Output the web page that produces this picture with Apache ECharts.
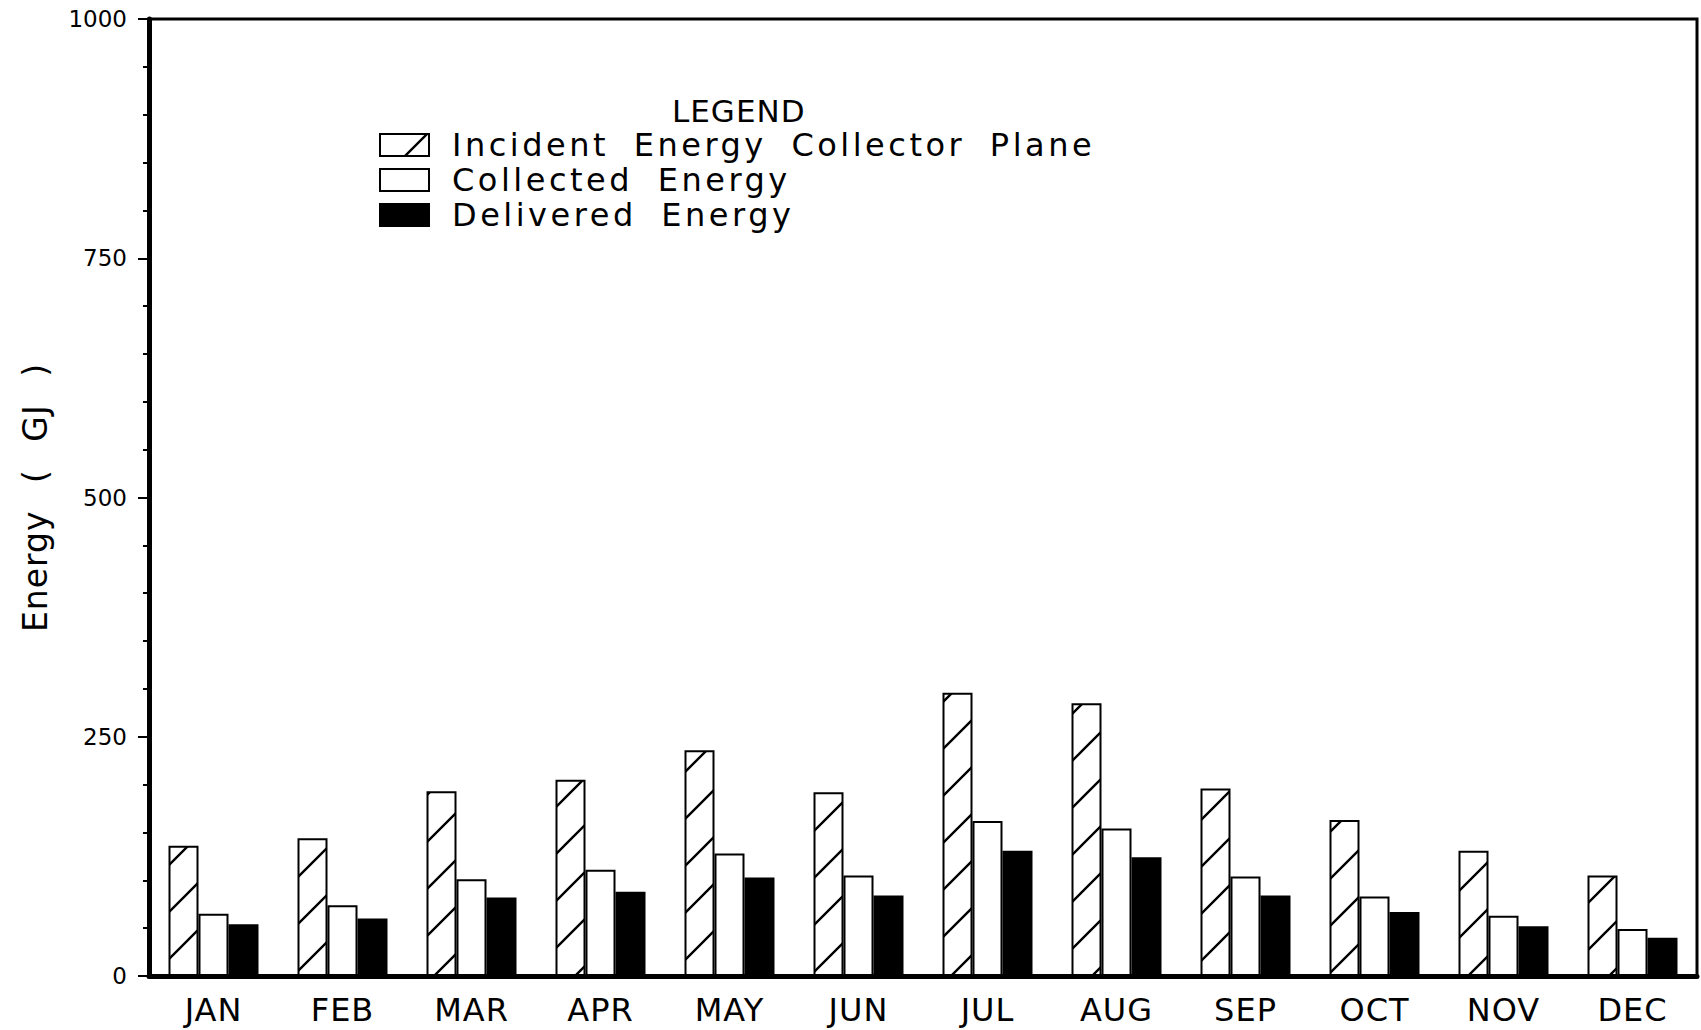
<!DOCTYPE html>
<html>
<head>
<meta charset="utf-8">
<script src="https://cdn.jsdelivr.net/npm/echarts/dist/echarts.min.js"></script>
<style>
  html, body { margin: 0; padding: 0; background: #fff; }
  #chart { width: 1701px; height: 1030px; }
  #chart text[style*="sp-legend"] { letter-spacing: 3.5px; word-spacing: 11px; }
  #chart text[style*="sp-month"] { letter-spacing: 1px; }
  #chart text[style*="sp-name"] { letter-spacing: 1px; word-spacing: 16px; }
  #chart text[style*="sp-title"] { letter-spacing: 1px; }
</style>
</head>
<body>
<div id="chart"></div>
<script>
// ---- data ----
const months = ['JAN', 'FEB', 'MAR', 'APR', 'MAY', 'JUN', 'JUL', 'AUG', 'SEP', 'OCT', 'NOV', 'DEC'];
const incidentEnergy  = [136, 144, 193, 205, 236, 192, 296, 285, 196, 163, 131, 105];
const collectedEnergy = [65, 74, 101, 111, 128, 105, 162, 154, 104, 83, 63, 49];
const deliveredEnergy = [54, 60, 82, 88, 103, 84, 131, 124, 84, 67, 52, 40];
const yTicks = [0, 250, 500, 750, 1000];
const seriesNames = ['Incident Energy Collector Plane', 'Collected Energy', 'Delivered Energy'];

// ---- hatch pattern ----
function makeHatch(size, lw) {
  const c = document.createElement('canvas');
  c.width = size; c.height = size;
  const ctx = c.getContext('2d');
  ctx.fillStyle = '#fff';
  ctx.fillRect(0, 0, size, size);
  ctx.strokeStyle = '#000';
  ctx.lineWidth = lw;
  ctx.beginPath();
  ctx.moveTo(-2, size + 2); ctx.lineTo(size + 2, -2);
  ctx.moveTo(-size - 2, size + 2); ctx.lineTo(2, -2);
  ctx.moveTo(-2, 2 * size + 2); ctx.lineTo(size + 2, size - 2);
  ctx.stroke();
  return c;
}
const hatch = { image: makeHatch(47, 2.4), repeat: 'repeat' };

const FONT = "'DejaVu Sans'";
const chart = echarts.init(document.getElementById('chart'), null, { renderer: 'svg' });

chart.setOption({
  animation: false,
  backgroundColor: '#fff',
  title: {
    text: 'LEGEND',
    left: 672, top: 97, padding: 0,
    textStyle: { fontFamily: FONT + ", sp-title", fontSize: 31, fontWeight: 'normal', color: '#000', lineHeight: 27 }
  },
  legend: {
    orient: 'vertical',
    left: 379, top: 129,
    padding: 0,
    itemWidth: 49, itemHeight: 22, itemGap: 3,
    icon: 'rect',
    selectedMode: false,
    data: seriesNames,
    itemStyle: { borderColor: '#000', borderWidth: 2 },
    textStyle: { fontFamily: FONT + ", sp-legend", fontSize: 32, color: '#000', lineHeight: 20, padding: [0, 0, 0, 18] }
  },
  grid: {
    left: 149, right: 4, top: 19, bottom: 54,
    show: true, borderColor: '#000', borderWidth: 3,
    outerBoundsMode: 'none', containLabel: false
  },
  xAxis: {
    type: 'category',
    data: months,
    axisTick: { show: false },
    axisLine: { lineStyle: { color: '#000', width: 5 } },
    axisLabel: { margin: 18, fontSize: 32, fontFamily: FONT + ", sp-month", color: '#000' },
    splitLine: { show: false }
  },
  yAxis: {
    type: 'value',
    min: yTicks[0], max: yTicks[yTicks.length - 1], interval: yTicks[1] - yTicks[0],
    name: 'Energy ( GJ )',
    nameLocation: 'middle', nameGap: 97, nameMoveOverlap: false,
    nameTextStyle: { fontFamily: FONT + ", sp-name", fontSize: 33, color: '#000' },
    axisLine: { show: true, lineStyle: { color: '#000', width: 5 } },
    axisTick: { show: true, length: 11, lineStyle: { color: '#000', width: 2 } },
    minorTick: { show: true, splitNumber: 5, length: 6, lineStyle: { color: '#000', width: 2 } },
    axisLabel: { margin: 22, fontSize: 23, fontFamily: FONT, color: '#000', formatter: v => String(v) },
    splitLine: { show: false },
    minorSplitLine: { show: false }
  },
  series: [
    {
      name: seriesNames[0], type: 'bar', data: incidentEnergy,
      barWidth: 30, barGap: '0%', silent: true,
      itemStyle: { color: hatch, borderColor: '#000', borderWidth: 2 },
      emphasis: { disabled: true }
    },
    {
      name: seriesNames[1], type: 'bar', data: collectedEnergy,
      barWidth: 30, barGap: '0%', silent: true,
      itemStyle: { color: '#fff', borderColor: '#000', borderWidth: 2 },
      emphasis: { disabled: true }
    },
    {
      name: seriesNames[2], type: 'bar', data: deliveredEnergy,
      barWidth: 30, barGap: '0%', silent: true,
      itemStyle: { color: '#000', borderColor: '#000', borderWidth: 2 },
      emphasis: { disabled: true }
    }
  ]
});
</script>
</body>
</html>
